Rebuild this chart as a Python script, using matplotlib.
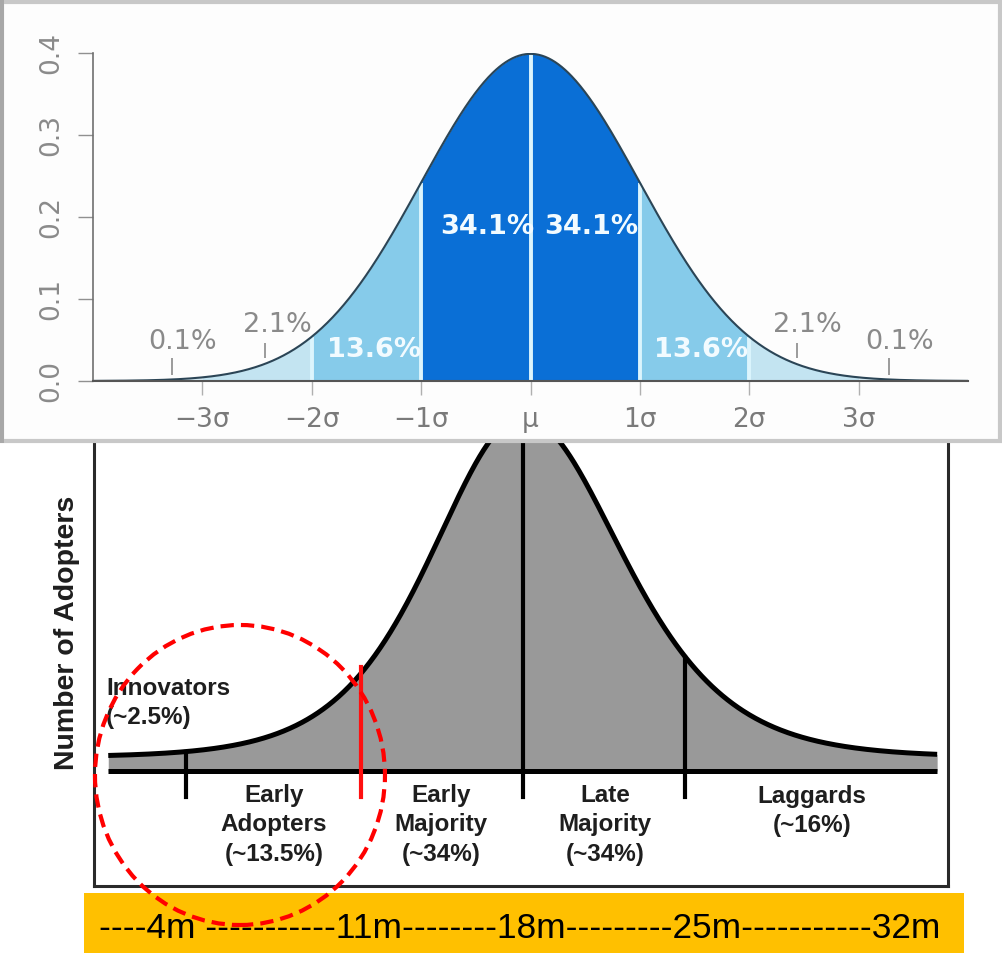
import numpy as np
import matplotlib.pyplot as plt
from matplotlib.patches import Rectangle, Ellipse

W, H = 1003, 969

# ---- top chart: standard normal with sigma bands ----
sigma_ticks = [-3, -2, -1, 0, 1, 2, 3]
sigma_labels = ['\u22123\u03c3', '\u22122\u03c3', '\u22121\u03c3', '\u03bc',
                '1\u03c3', '2\u03c3', '3\u03c3']
density_ticks = [0.0, 0.1, 0.2, 0.3, 0.4]
band_edges = [-4, -3, -2, -1, 0, 1, 2, 3, 4]
band_colors = ['#d9eef6', '#c3e4f1', '#86cbea', '#0a6fd6',
               '#0a6fd6', '#86cbea', '#c3e4f1', '#d9eef6']
separators = [-2, -1, 0, 1, 2]

pct_text = ['0.1%', '2.1%', '13.6%', '34.1%', '34.1%', '13.6%', '2.1%', '0.1%']
pct_x = [-3.18, -2.31, -1.43, -0.40, 0.56, 1.56, 2.53, 3.37]
pct_y = [0.048, 0.068, 0.038, 0.188, 0.188, 0.038, 0.068, 0.048]
pct_bold = [False, False, True, True, True, True, False, False]

pointer_x = [-3.275, -2.43, 2.44, 3.28]
pointer_lo = [0.007, 0.028, 0.028, 0.007]
pointer_hi = [0.028, 0.046, 0.046, 0.028]

# ---- bottom chart: adopter categories ----
segment_edges = [-2.08, -1.0, 0.0, 1.0]
segment_text = ['Early\nAdopters\n(~13.5%)', 'Early\nMajority\n(~34%)',
                'Late\nMajority\n(~34%)', 'Laggards\n(~16%)']
segment_x = [-1.537, -0.506, 0.506, 1.784]
segment_y = [-0.54, -0.54, -0.54, -0.40]

curve_tail = 0.14
curve_peak = 3.40
width_left = 0.377
width_right = 0.41

months = [4, 11, 18, 25, 32]
dash_runs = [4, 11, 8, 9, 11]


def fx(px):
    return px / W


def fy(py):
    return 1 - py / H


def normal_pdf(x):
    x = np.asarray(x, dtype=float)
    return np.exp(-x ** 2 / 2) / np.sqrt(2 * np.pi)


def adopters(x):
    x = np.asarray(x, dtype=float)
    w = np.where(x < 0, width_left, width_right)
    return curve_tail + curve_peak / np.cosh(x / (2 * w)) ** 2


fig = plt.figure(figsize=(W / 100, H / 100), dpi=100)
fig.patch.set_facecolor('white')

# ---------------- bottom chart ----------------
ax2 = fig.add_axes([fx(94), fy(886), (948 - 94) / W, (886 - 443) / H])
ax2.set_xlim(-2.648, 2.623)
ax2.set_ylim(-1.15, 3.28)
ax2.spines['top'].set_visible(False)
for s in ['left', 'right', 'bottom']:
    ax2.spines[s].set_color('#2a2a2a')
    ax2.spines[s].set_linewidth(2.2)
ax2.set_xticks([])
ax2.set_yticks([])

xs = np.linspace(-2.56, 2.556, 800)
ax2.fill_between(xs, 0, adopters(xs), color='#999999', lw=0)
ax2.plot(xs, adopters(xs), color='black', lw=3.6, solid_capstyle='butt')
ax2.plot([xs[0], xs[-1]], [0, 0], color='black', lw=3.6, solid_capstyle='butt')

for e in segment_edges:
    top = 3.6 if e == 0 else adopters(e)
    if e == -1.0:
        ax2.plot([e, e], [top + 0.06, -0.26], color='#ff1010', lw=3.0, zorder=4)
    else:
        ax2.plot([e, e], [top, -0.26], color='black', lw=3.0, zorder=3)

txt_font = dict(family='Liberation Sans', weight='bold', fontsize=17.5,
                color='#1e1e1e', linespacing=1.36)
ax2.text(-2.574, 0.68, 'Innovators\n(~2.5%)', ha='left', va='center', **txt_font)
for t, x, y in zip(segment_text, segment_x, segment_y):
    ax2.text(x, y, t, ha='center', va='center', **txt_font)

ax2.add_patch(Ellipse((-1.747, -0.04), 1.79, 3.0, fill=False, ec='#ff0000',
                      lw=3.0, ls=(0, (3.2, 1.7)), clip_on=False, zorder=6))

fig.text(fx(67), fy(633), 'Number of Adopters', rotation=90, ha='center',
         va='center', family='Liberation Sans', weight='bold', fontsize=20.5,
         color='#1e1e1e')

# timeline bar
fig.add_artist(Rectangle((fx(84), fy(953)), (964 - 84) / W, (953 - 893) / H,
                         transform=fig.transFigure, fc='#ffc000', ec='none',
                         zorder=-1))
timeline = ''
for i, (m, d) in enumerate(zip(months, dash_runs)):
    timeline += ('' if i != 1 else ' ') + '-' * d + f'{m}m'
fig.text(fx(99), fy(938), timeline, ha='left', va='baseline',
         family='Liberation Sans', fontsize=25.4, color='black', zorder=-0.5)

# ---------------- top chart ----------------
fig.add_artist(Rectangle((fx(2), fy(441)), (1000 - 2) / W, (441 - 2) / H,
                         transform=fig.transFigure, fc='#fdfdfd', ec='#c8c8c8',
                         lw=3, zorder=1))
fig.add_artist(Rectangle((0, fy(443)), fx(4), (443) / H,
                         transform=fig.transFigure, fc='#a8a8a8', ec='none',
                         zorder=1.1))

ax1 = fig.add_axes([fx(93), fy(381), (968 - 93) / W, (381 - 53) / H], zorder=2)
ax1.patch.set_visible(False)
ax1.set_xlim(-4, 4)
ax1.set_ylim(0, 0.4)
for s in ['top', 'right']:
    ax1.spines[s].set_visible(False)
ax1.spines['left'].set_bounds(0, 0.4)
ax1.spines['left'].set_color('#707070')
ax1.spines['left'].set_linewidth(1.2)
ax1.spines['bottom'].set_color('#555555')
ax1.spines['bottom'].set_linewidth(1.5)

for i in range(len(band_colors)):
    bx = np.linspace(band_edges[i], band_edges[i + 1], 200)
    ax1.fill_between(bx, 0, normal_pdf(bx), color=band_colors[i], lw=0)
ax1.vlines(separators, 0, normal_pdf(separators), colors='#dcf5fd', lw=2.8)
cx = np.linspace(-4, 4, 800)
ax1.plot(cx, normal_pdf(cx), color='#2b4556', lw=1.5)

for t, x, y, b in zip(pct_text, pct_x, pct_y, pct_bold):
    if b:
        ax1.text(x, y, t, ha='center', va='center', fontsize=19.5,
                 weight='bold', color='#f2fbff')
    else:
        ax1.text(x, y, t, ha='center', va='center', fontsize=19.5,
                 color='#8a8a8a')
ax1.vlines(pointer_x, pointer_lo, pointer_hi, colors='#8a8a8a', lw=1.2)

ax1.set_xticks(sigma_ticks)
ax1.set_xticklabels(sigma_labels)
ax1.set_yticks(density_ticks)
ax1.set_yticklabels([f'{v:.1f}' for v in density_ticks], rotation=90,
                    va='center')
ax1.tick_params(axis='x', length=10, width=1, color='#b0b0b0', pad=9,
                labelsize=19, labelcolor='#7a7a7a')
ax1.tick_params(axis='y', length=11, width=1, color='#909090', pad=10,
                labelsize=19, labelcolor='#8a8a8a')

fig.savefig('out.png', dpi=100)
